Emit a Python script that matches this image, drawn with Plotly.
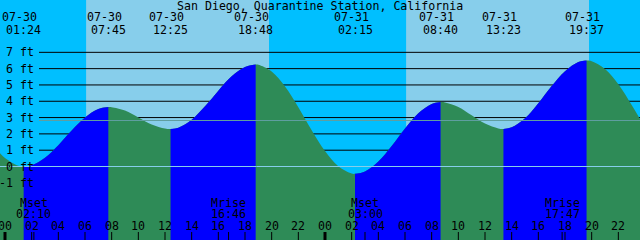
import plotly.graph_objects as go

# ---------------- data ----------------
title = "San Diego, Quarantine Station, California"

# tide extremes
ext_date = ["07-30", "07-30", "07-30", "07-30", "07-31", "07-31", "07-31", "07-31"]
ext_time = ["01:24", "07:45", "12:25", "18:48", "02:15", "08:40", "13:23", "19:37"]
ext_height = [0.0, 3.65, 2.30, 6.25, -0.45, 3.95, 2.30, 6.50]
ext_kind = ["L", "H", "L", "H", "L", "H", "L", "H"]

# hourly tide heights (ft); hours since 07-30 00:00
hour_t = [-0.375] + list(range(0, 48)) + [47.625]
hour_h = [0.81, 0.52, 0.04, 0.08, 0.54, 1.31, 2.21, 3.01, 3.53, 3.64, 3.43, 3.01,
          2.58, 2.33, 2.38, 2.87, 3.69, 4.65, 5.53, 6.10, 6.24, 5.83, 4.91, 3.64,
          2.23, 0.95, 0.01, -0.43, -0.30, 0.31, 1.26, 2.33, 3.26, 3.83, 3.93, 3.65,
          3.14, 2.63, 2.33, 2.40, 2.96, 3.88, 4.93, 5.84, 6.40, 6.46, 5.98, 5.04,
          3.77, 2.91]

# sun
sun_day = ["07-30", "07-31"]
sunrise = ["06:05", "06:05"]
sunset = ["19:48", "19:48"]

# moon
moon_kind = ["Mset", "Mrise", "Mset", "Mrise"]
moon_day = ["07-30", "07-30", "07-31", "07-31"]
moon_time = ["02:10", "16:46", "03:00", "17:47"]

ft_levels = [-1, 0, 1, 2, 3, 4, 5, 6, 7]
ft_labels = [f"{v} ft" for v in ft_levels]
mean_level = 2.82

hour_ticks = list(range(0, 49, 2))
hour_labels = [f"{h % 24:02d}" for h in hour_ticks]

# ---------------- styling ----------------
NIGHT = "#00BFFF"
DAY = "#87CEEB"
RISE = "#0000FF"
FALL = "#2E8B57"
FONT = dict(family="DejaVu Sans Mono", size=11.6, color="black")
W, H = 640, 240
X0, X1 = -0.375, 47.625
Y0, Y1 = -4.506, 10.208
YBOT = -6


def hrs(day, hhmm):
    h, m = hhmm.split(":")
    return (int(day.split("-")[1]) - 30) * 24 + int(h) + int(m) / 60


def py(px):
    return 1 - px / H


ext_t = [hrs(d, t) for d, t in zip(ext_date, ext_time)]

# merged curve
pts = sorted(set(zip(hour_t, hour_h)) | set(zip(ext_t, ext_height)))
ct = [p[0] for p in pts]
ch = [p[1] for p in pts]

fig = go.Figure()


def add_fill(ts, hs, color):
    fig.add_trace(go.Scatter(x=[ts[0], ts[-1]], y=[YBOT, YBOT], mode="lines",
                             line=dict(width=0, color=color), hoverinfo="skip",
                             showlegend=False))
    fig.add_trace(go.Scatter(x=ts, y=hs, mode="lines", fill="tonexty",
                             fillcolor=color, line=dict(width=0, color=color, shape="spline"),
                             hoverinfo="skip", showlegend=False))


add_fill(ct, ch, FALL)
for i, k in enumerate(ext_kind):
    if k == "L" and i + 1 < len(ext_kind):
        a, b = ext_t[i], ext_t[i + 1]
        seg = [(t, h) for t, h in pts if a <= t <= b]
        add_fill([s[0] for s in seg], [s[1] for s in seg], RISE)

shapes = []
# day / night bands
edges = [X0]
for d, r, s in zip(sun_day, sunrise, sunset):
    edges += [hrs(d, r), hrs(d, s)]
edges.append(X1)
for i in range(len(edges) - 1):
    shapes.append(dict(type="rect", xref="x", yref="paper", x0=edges[i], x1=edges[i + 1],
                       y0=0, y1=1, fillcolor=NIGHT if i % 2 == 0 else DAY,
                       line=dict(width=0), layer="below"))
# black grid lines
for v in ft_levels:
    if v >= 1:
        shapes.append(dict(type="line", xref="paper", yref="y", x0=39 / W, x1=1, y0=v, y1=v,
                           line=dict(color="black", width=1), layer="below"))
# light lines above fill
shapes.append(dict(type="line", xref="paper", yref="y", x0=0, x1=1, y0=0, y1=0,
                   line=dict(color="#87CEEB", width=1), layer="above"))
shapes.append(dict(type="line", xref="paper", yref="y", x0=39 / W, x1=1, y0=mean_level,
                   y1=mean_level, line=dict(color="#5F9EA0", width=1), layer="above"))
# hour ticks
for h in hour_ticks:
    thick = h % 24 == 0
    shapes.append(dict(type="line", xref="x", yref="paper", x0=h, x1=h, y0=0, y1=py(232),
                       line=dict(color="black", width=3 if thick else 1), layer="above"))
# moon ticks
for d, t in zip(moon_day, moon_time):
    x = hrs(d, t)
    shapes.append(dict(type="line", xref="x", yref="paper", x0=x, x1=x, y0=0, y1=py(232),
                       line=dict(color="black", width=1), layer="above"))

ann = []
ann.append(dict(text=title, x=0.5, xref="paper", y=py(6), yref="paper",
                showarrow=False, font=FONT, xanchor="center", yanchor="middle"))
for d, t, x in zip(ext_date, ext_time, ext_t):
    ann.append(dict(text=d, x=x, xref="x", y=py(17.5), yref="paper", xshift=-4,
                    showarrow=False, font=FONT, xanchor="center", yanchor="middle"))
    ann.append(dict(text=t, x=x, xref="x", y=py(29.5), yref="paper",
                    showarrow=False, font=FONT, xanchor="center", yanchor="middle"))
for v, lab in zip(ft_levels, ft_labels):
    ann.append(dict(text=lab, x=36 / W, xref="paper", y=v, yref="y",
                    showarrow=False, font=FONT, xanchor="right", yanchor="middle"))
for h, lab in zip(hour_ticks, hour_labels):
    ann.append(dict(text=lab, x=h, xref="x", y=py(226), yref="paper",
                    showarrow=False, font=FONT, xanchor="center", yanchor="middle"))
for k, d, t in zip(moon_kind, moon_day, moon_time):
    x = hrs(d, t)
    ann.append(dict(text=k, x=x, xref="x", y=py(202.5), yref="paper",
                    showarrow=False, font=FONT, xanchor="center", yanchor="middle"))
    ann.append(dict(text=t, x=x, xref="x", y=py(213.5), yref="paper",
                    showarrow=False, font=FONT, xanchor="center", yanchor="middle"))

fig.update_layout(
    width=W, height=H, margin=dict(l=0, r=0, t=0, b=0),
    paper_bgcolor=NIGHT, plot_bgcolor=NIGHT,
    xaxis=dict(range=[X0, X1], visible=False, fixedrange=True),
    yaxis=dict(range=[Y0, Y1], visible=False, fixedrange=True),
    shapes=shapes, annotations=ann, showlegend=False,
)
fig.write_html("out.html", config={"displayModeBar": False})
